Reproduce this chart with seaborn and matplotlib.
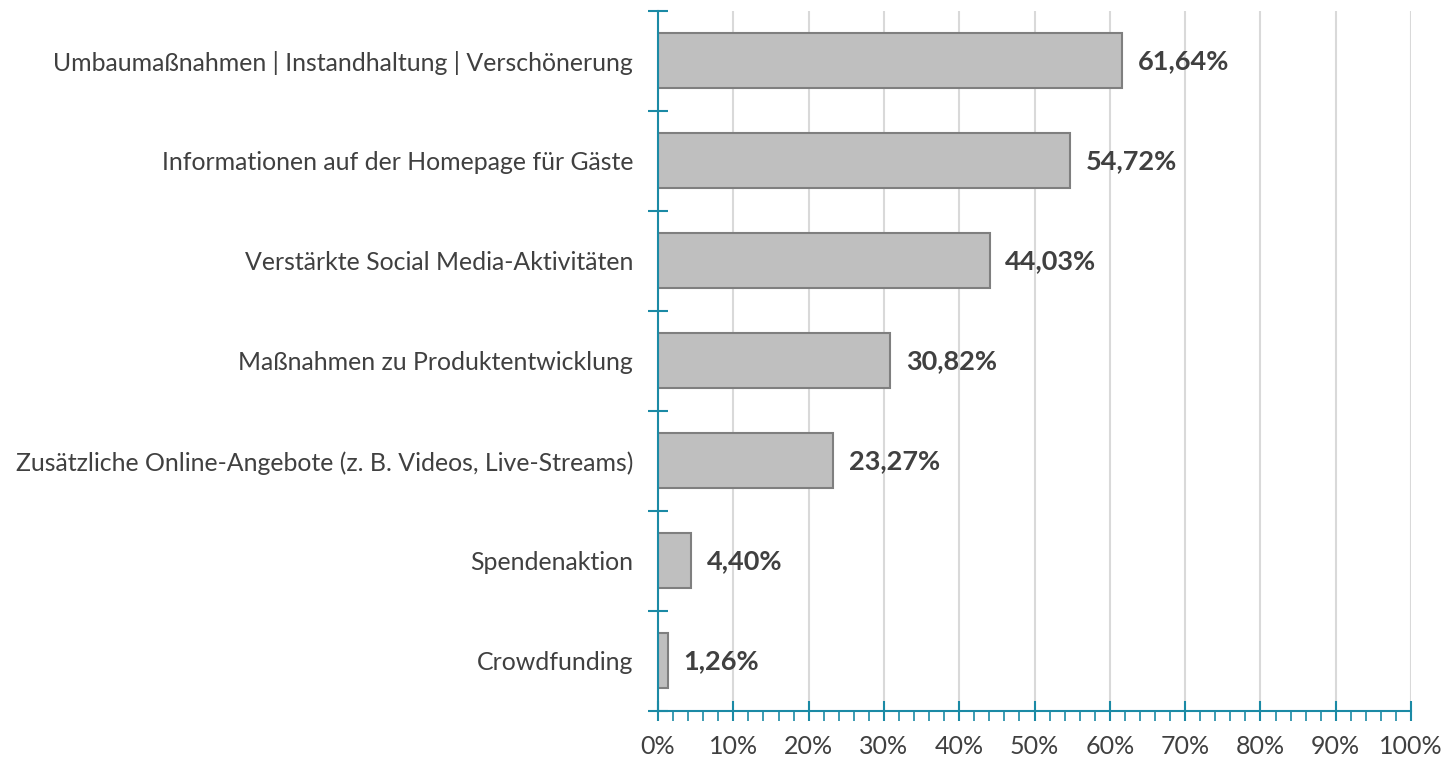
import numpy as np
import pandas as pd
import seaborn as sns
import matplotlib
matplotlib.use("Agg")
import matplotlib.pyplot as plt
from matplotlib.ticker import MultipleLocator, FuncFormatter

massnahmen = [
    "Umbaumaßnahmen | Instandhaltung | Verschönerung",
    "Informationen auf der Homepage für Gäste",
    "Verstärkte Social Media-Aktivitäten",
    "Maßnahmen zu Produktentwicklung",
    "Zusätzliche Online-Angebote (z. B. Videos, Live-Streams)",
    "Spendenaktion",
    "Crowdfunding",
]
anteile = [61.64, 54.72, 44.03, 30.82, 23.27, 4.40, 1.26]

teal = "#1b8aa5"
textgrau = "#404040"

sns.set_style("white")
plt.rcParams['font.family'] = ['Lato', 'DejaVu Sans']

df = pd.DataFrame({"massnahme": massnahmen, "anteil": anteile})

fig = plt.figure(figsize=(14.45, 7.57), dpi=100)
ax = fig.add_axes([0.4554, 0.0608, 0.5211, 0.9247])

sns.barplot(data=df, x="anteil", y="massnahme", orient="h", color="#bfbfbf",
            saturation=1, width=0.55, edgecolor="#7f7f7f", linewidth=1.5, ax=ax, zorder=3)

ax.set_xlim(0, 100)
ax.set_ylim(6.5, -0.5)
ax.set_xlabel("")
ax.set_ylabel("")

# x-Achse: Hauptstriche alle 10%, Nebenstriche alle 2%
ax.xaxis.set_major_locator(MultipleLocator(10))
ax.xaxis.set_minor_locator(MultipleLocator(2))
ax.xaxis.set_major_formatter(FuncFormatter(lambda v, p: "{:d}%".format(int(v))))
ax.tick_params(axis="x", which="major", bottom=True, direction="inout", length=15, width=1.5,
               color=teal, labelsize=18, labelcolor=textgrau, pad=10)
ax.tick_params(axis="x", which="minor", bottom=True, direction="out", length=7, width=1.2, color=teal)
ax.grid(axis="x", which="major", color="#d9d9d9", linewidth=1.5, zorder=0)

# y-Achse: Striche zwischen den Kategorien
ax.set_yticks(range(len(massnahmen)))
ax.set_yticklabels(massnahmen)
ax.yaxis.set_minor_locator(plt.FixedLocator(np.arange(-0.5, len(massnahmen), 1)))
ax.tick_params(axis="y", which="major", left=False, length=0, labelsize=17.9,
               labelcolor=textgrau, pad=18)
ax.tick_params(axis="y", which="minor", left=True, direction="inout", length=15, width=1.5, color=teal)

for s in ["top", "right"]:
    ax.spines[s].set_visible(False)
for s in ["left", "bottom"]:
    ax.spines[s].set_color(teal)
    ax.spines[s].set_linewidth(1.5)
    ax.spines[s].set_zorder(4)

for i, v in enumerate(anteile):
    ax.text(v + 2.1, i, "{:.2f}%".format(v).replace(".", ","), va="center", ha="left",
            fontsize=19.5, fontweight="bold", color=textgrau)

fig.savefig("out.png", dpi=100)
